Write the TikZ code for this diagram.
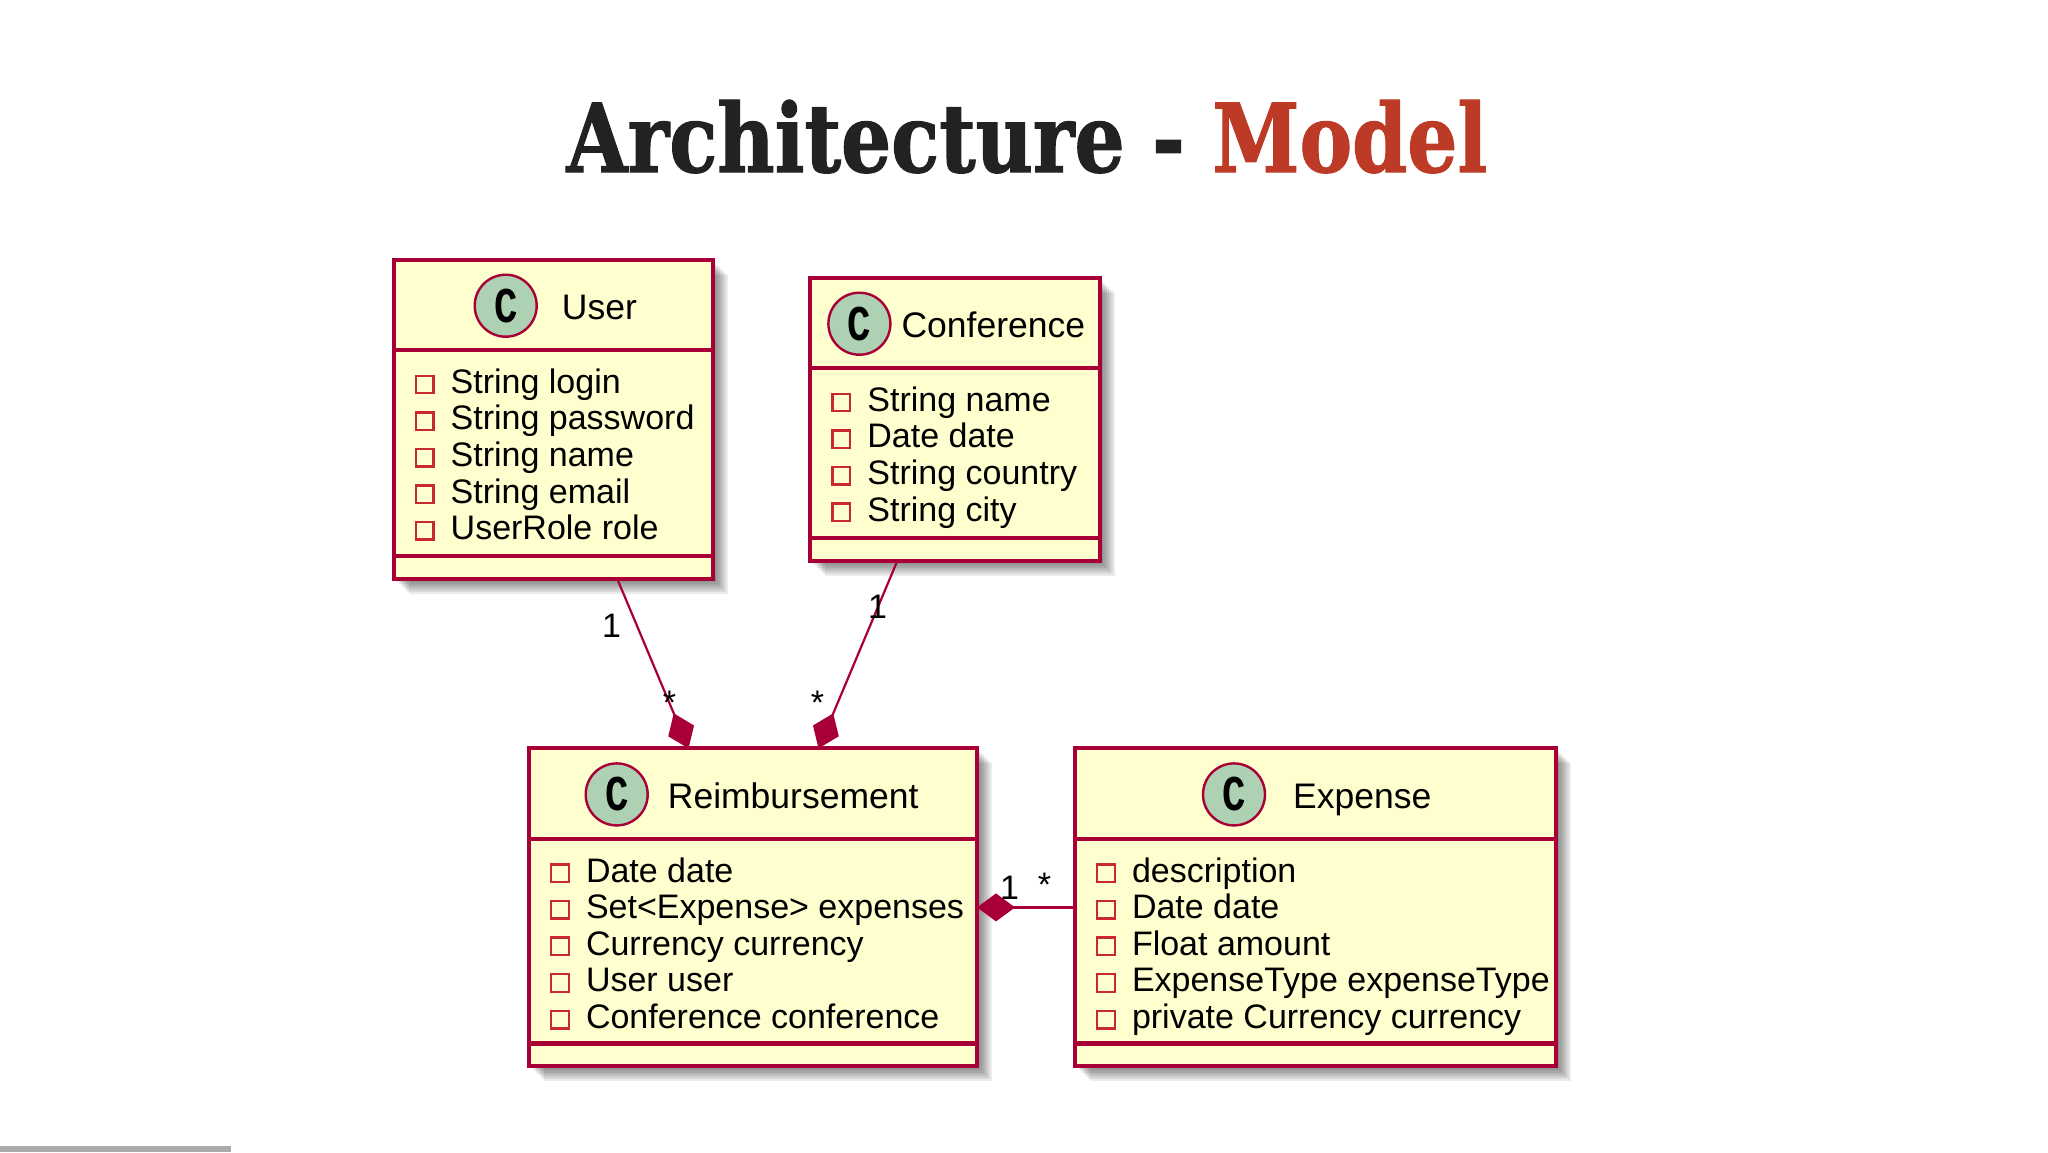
\documentclass[tikz,border=0pt]{standalone}
\usepackage{fontspec}
\setmainfont{Liberation Sans}
\newfontfamily\titlefont[FakeStretch=0.83, FakeBold=1.2]{DejaVu Serif Bold}
\newfontfamily\spotfont[FakeStretch=0.78]{Liberation Mono Bold}
\usetikzlibrary{shapes, shadows, arrows.meta}

\definecolor{plumred}{HTML}{A80036}
\definecolor{classfill}{HTML}{FEFECE}
\definecolor{spotfill}{HTML}{ADD1B2}
\definecolor{markred}{HTML}{C82930}
\definecolor{titledark}{HTML}{222222}
\definecolor{titlered}{HTML}{BC3A26}
\definecolor{pagebar}{HTML}{ABABAB}

\tikzset{
	softshadow/.style={general shadow={shadow xshift=#1pt, shadow yshift=-#1pt, fill=black, opacity=.08}},
	classbox/.style={rectangle, draw=plumred, fill=classfill, line width=4pt, inner sep=0pt, outer sep=0pt,
		anchor=north west, softshadow=15, softshadow=13, softshadow=11, softshadow=9, softshadow=7, softshadow=5, softshadow=3},
	classrule/.style={draw=plumred, line width=4.2pt},
	spot/.style={circle, draw=plumred, fill=spotfill, line width=2.4pt, minimum size=62pt, inner sep=0pt,
		font=\spotfont\fontsize{50}{50}\selectfont},
	classname/.style={anchor=base west, inner sep=0pt, font=\fontsize{35.5}{36}\selectfont},
	attrtext/.style={anchor=base west, inner sep=0pt, font=\fontsize{34}{34}\selectfont},
	attrmark/.style={rectangle, draw=markred, line width=2.4pt, minimum size=17.5pt, inner sep=0pt},
	assoc/.style={draw=plumred, line width=2.2pt},
	comp/.style={assoc, -{Diamond[length=38pt, width=28pt, line width=0pt, fill=plumred]}},
	mult/.style={inner sep=0pt, font=\fontsize{34}{34}\selectfont},
}

% #1 name, #2 x, #3 y, #4 width, #5 height, #6 spot x, #7 name x, #8 title, #9 attributes
\newcommand{\classbox}[9]{
	\node[classbox, minimum width=#4pt, minimum height=#5pt] (#1) at (#2,#3) {};
	\draw[classrule] ([yshift=-90.5pt]#1.north west) -- ([yshift=-90.5pt]#1.north east);
	\draw[classrule] ([yshift=23pt]#1.south west) -- ([yshift=23pt]#1.south east);
	\node[spot] (#1-spot) at (#6,#3+46) {C};
	\node[classname] (#1-name) at (#7,#3+59.8) {#8};
	\foreach \attr [count=\i from 0] in {#9} {
		\node[attrmark] (#1-mark-\i) at (#2+31,#3+124.8+36.6*\i) {};
		\node[attrtext] (#1-attr-\i) at (#2+56.8,#3+133.6+36.6*\i) {\attr};
	}
}

\begin{document}
\begin{tikzpicture}[x=1pt, y=-1pt]
	\useasboundingbox (0,0) rectangle (2048,1152);
	\fill[pagebar] (0,1146) rectangle (231,1152);

	\node[anchor=base, inner sep=0pt, font=\titlefont\fontsize{95}{95}\selectfont] (title) at (1027,172)
		{\textcolor{titledark}{Architecture - }\textcolor{titlered}{Model}};

	\classbox{user}{393.7}{259.7}{319}{319}{505.7}{561.7}{User}
		{String login, String password, String name, String email, UserRole role}
	\classbox{conf}{810.4}{277.7}{290}{283}{859.4}{901.4}{Conference}
		{String name, Date date, String country, String city}
	\classbox{reimb}{529}{748.4}{448}{318}{616.7}{667.7}{Reimbursement}
		{Date date, Set<Expense> expenses, Currency currency, User user, Conference conference}
	\classbox{expense}{1075}{748.4}{481}{318}{1234}{1293}{Expense}
		{description, Date date, Float amount, ExpenseType expenseType, private Currency currency}

	\draw[comp] ([xshift=64pt]user.south) -- ([xshift=-64.5pt]reimb.north);
	\draw[comp] ([xshift=-58pt]conf.south) -- ([xshift=65.5pt]reimb.north);
	\draw[comp] (expense.west) -- (reimb.east);

	\node[mult] (user-one) at (611.5,625.5) {1};
	\node[mult] (user-many) at (669.5,702.5) {*};
	\node[mult] (conf-one) at (877.5,606.5) {1};
	\node[mult] (conf-many) at (817.5,702.5) {*};
	\node[mult] (reimb-one) at (1009.5,888) {1};
	\node[mult] (expense-many) at (1044.5,884.5) {*};
\end{tikzpicture}
\end{document}
